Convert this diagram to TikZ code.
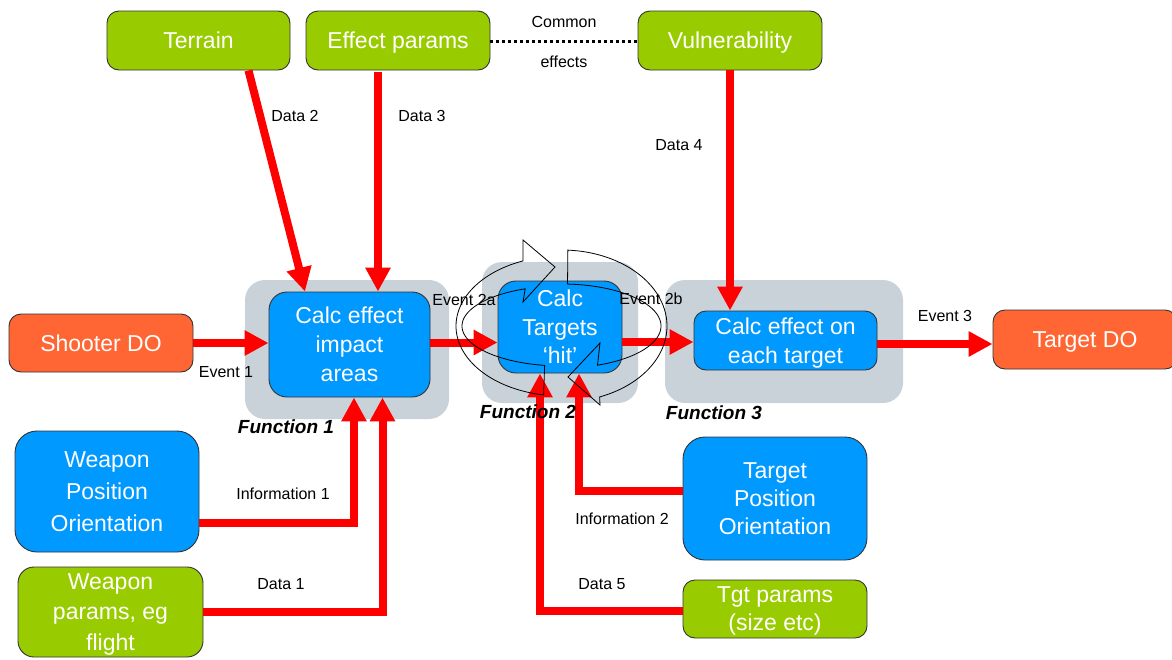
\documentclass[tikz,border=0pt]{standalone}
\usepackage{fontspec}
\setmainfont{Liberation Sans}
\usetikzlibrary{arrows.meta}
\definecolor{leafgreen}{HTML}{99CC00}
\definecolor{skyblue}{HTML}{0099FF}
\definecolor{tangerine}{HTML}{FF6633}
\definecolor{panelgray}{HTML}{CAD2D9}
\definecolor{flowred}{HTML}{FF0000}
\begin{document}
\begin{tikzpicture}[x=1pt,y=-1pt,
  box/.style={draw=black!80, line width=0.9pt, text=white, align=center,
    inner sep=0pt, text depth=0pt, font=\fontsize{23}{29}\selectfont},
  greenbox/.style={box, fill=leafgreen, rounded corners=12pt},
  bluebox/.style={box, fill=skyblue, rounded corners=18pt},
  orangebox/.style={box, fill=tangerine, rounded corners=12pt},
  panel/.style={fill=panelgray, rounded corners=20pt, inner sep=0pt},
  flow/.style={draw=flowred, line width=8pt,
    -{Triangle[length=24pt,width=24pt]}},
  tag/.style={font=\fontsize{16}{18}\selectfont, text=black, inner sep=0pt},
  fnlabel/.style={font=\fontsize{19}{21}\selectfont\bfseries\itshape, inner sep=0pt},
  cycle arrow/.style={draw=black, line width=0.8pt}]
\useasboundingbox (0,0) rectangle (1172,659);

% grey function panels
\node[panel, minimum width=204pt, minimum height=139pt] (p1) at (347,349.5) {};
\node[panel, minimum width=156pt, minimum height=141pt] (p2) at (560,332.5) {};
\node[panel, minimum width=238pt, minimum height=123pt] (p3) at (784,341.5) {};

% parameter sources
\node[greenbox, minimum width=183pt, minimum height=59pt] (terrain) at (198.5,40.5) {Terrain};
\node[greenbox, minimum width=184pt, minimum height=59pt] (effect) at (398,40.5) {Effect params};
\node[greenbox, minimum width=184pt, minimum height=59pt] (vuln) at (730,40.5) {Vulnerability};

% distributed objects
\node[orangebox, minimum width=184pt, minimum height=58pt] (shooter) at (101,343) {Shooter DO};
\node[orangebox, minimum width=184pt, minimum height=59pt] (tgtdo) at (1085,339.5) {Target DO};

% processing functions
\node[bluebox, minimum width=161pt, minimum height=105pt] (calc1) at (349.5,344.5)
  {Calc effect\\impact\\areas};
\node[bluebox, minimum width=124pt, minimum height=92pt,
  font=\fontsize{23}{28.5}\selectfont] (calc2) at (560,327) {Calc\\Targets\\‘hit’};
\node[bluebox, rounded corners=12pt, minimum width=183pt, minimum height=59pt]
  (calc3) at (785.5,340.5) {Calc effect on\\each target};

% position / parameter inputs
\node[bluebox, rounded corners=22pt, minimum width=184pt, minimum height=121pt,
  font=\fontsize{23}{32}\selectfont] (wpos) at (107,491.5) {Weapon\\Position\\Orientation};
\node[greenbox, rounded corners=16pt, minimum width=185pt, minimum height=90pt,
  font=\fontsize{23}{30.5}\selectfont] (wpar) at (110.5,612) {Weapon\\params, eg\\flight};
\node[bluebox, rounded corners=22pt, minimum width=184pt, minimum height=123pt,
  font=\fontsize{23}{28}\selectfont] (tpos) at (775,498.5) {Target\\Position\\Orientation};
\node[greenbox, minimum width=184pt, minimum height=58pt,
  font=\fontsize{23}{28}\selectfont] (tpar) at (775,609) {Tgt params\\(size etc)};

% common-effects link
\draw[line width=3pt, dash pattern=on 3pt off 3pt] ([yshift=-0.5pt]effect.east) -- ([yshift=-0.5pt]vuln.west);
\node[tag] (common) at (564,22) {Common};
\node[tag] (effects) at (564,62) {effects};

% data flows
\draw[flow] ([xshift=50pt]terrain.south) -- ([xshift=-44.5pt]calc1.north);
\draw[flow] ([xshift=-20pt,yshift=-2pt]effect.south) -- ([xshift=28.5pt]calc1.north);
\draw[flow] (vuln.south) -- (vuln.south |- calc3.north);
\draw[flow] (shooter.east) -- (shooter.east -| calc1.west);
\draw[flow] ([yshift=2pt]calc1.east) -- ([yshift=2pt]calc1.east -| calc2.west);
\draw[flow] ([yshift=-1.5pt]calc2.east |- calc3.west) -- ([yshift=-1.5pt]calc3.west);
\draw[flow] ([yshift=-3.5pt]calc3.east) -- ([yshift=-3.5pt]calc3.east -| tgtdo.west);
\draw[flow] ([yshift=-31.5pt]wpos.east) -| ([xshift=4.5pt]calc1.south);
\draw[flow] (wpar.east) -| ([xshift=33pt]calc1.south);
\draw[flow] ([yshift=8pt]tpos.east -| tpos.west) -| ([xshift=19pt]calc2.south);
\draw[flow] ([yshift=-2pt]tpar.west) -| ([xshift=-20pt]calc2.south);

% flow labels
\node[tag] (d2) at (295,116) {Data 2};
\node[tag] (d3) at (422,116) {Data 3};
\node[tag] (d4) at (679,145) {Data 4};
\node[tag] (e1) at (226,372) {Event 1};
\node[tag] (e2a) at (464,300) {Event 2a};
\node[tag] (e2b) at (651,299) {Event 2b};
\node[tag] (e3) at (945,316) {Event 3};
\node[tag] (i1) at (283,494) {Information 1};
\node[tag] (dd1) at (281,584) {Data 1};
\node[tag] (i2) at (622,519) {Information 2};
\node[tag] (d5) at (602,584) {Data 5};

% function captions
\node[fnlabel] (f1) at (286,427) {Function 1};
\node[fnlabel] (f2) at (528,412) {Function 2};
\node[fnlabel] (f3) at (714,413) {Function 3};

% cycling outline arrows around Function 2
\draw[cycle arrow]
  plot[domain=260:111.6, samples=60] ({562+106*cos(\x)},{326-70*sin(\x)})
  -- (523,240) -- (555,267) -- (523,302)
  -- plot[domain=111.6:260, samples=60] ({562+100*cos(\x)},{326-40*sin(\x)})
  -- cycle;
\draw[cycle arrow]
  plot[domain=86.8:-69, samples=60] ({562+105*cos(\x)},{326-76*sin(\x)})
  -- (600,405) -- (568,377) -- (600,343)
  -- plot[domain=-69:86.8, samples=60] ({562+99*cos(\x)},{326-42*sin(\x)})
  -- cycle;
\end{tikzpicture}
\end{document}
